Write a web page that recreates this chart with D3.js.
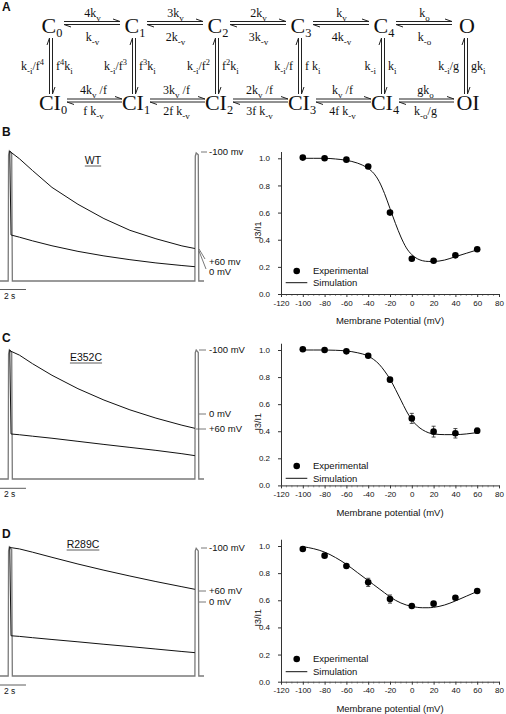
<!DOCTYPE html>
<html><head><meta charset="utf-8">
<script src="https://cdn.jsdelivr.net/npm/d3@7"></script>
<style>
html,body{margin:0;padding:0;background:#fff;}
svg{display:block;}
text{font-family:"Liberation Sans",Arial,sans-serif;fill:#111;}
</style></head><body>
<svg id="fig" width="506" height="714"></svg>
<script>
// ================= DATA =================
// Panel A: kinetic scheme
const topStates = ["C_{0}","C_{1}","C_{2}","C_{3}","C_{4}","O"];
const bottomStates = ["CI_{0}","CI_{1}","CI_{2}","CI_{3}","CI_{4}","OI"];
const topForward = ["4k_{v}","3k_{v}","2k_{v}","k_{v}","k_{o}"];
const topBackward = ["k_{-v}","2k_{-v}","3k_{-v}","4k_{-v}","k_{-o}"];
const bottomForward = ["4k_{v} /f","3k_{v} /f","2k_{v} /f","k_{v} /f","gk_{o}"];
const bottomBackward = ["f k_{-v}","2f k_{-v}","3f k_{-v}","4f k_{-v}","k_{-o}/g"];
const upRates = ["k_{-i}/f^{4}","k_{-i}/f^{3}","k_{-i}/f^{2}","k_{-i}/f","k_{-i}","k_{-i}/g"];
const downRates = ["f^{4}k_{i}","f^{3}k_{i}","f^{2}k_{i}","f k_{i}","k_{i}","gk_{i}"];

// Right-hand charts: I3/I1 vs membrane potential
const voltages = [-100,-80,-60,-40,-20,0,20,40,60];
const wtExp    = [1.005,1.0,0.99,0.94,0.60,0.26,0.245,0.285,0.33];
const e352cExp = [1.005,1.0,0.99,0.958,0.781,0.495,0.397,0.385,0.404];
const e352cErr = [0,0,0.005,0.01,0.015,0.037,0.04,0.035,0.02];
const r289cExp = [0.978,0.929,0.853,0.732,0.609,0.558,0.575,0.619,0.668];
const r289cErr = [0.005,0.005,0.01,0.03,0.03,0.01,0.01,0.01,0.01];
const simV     = [-100,-90,-80,-70,-60,-50,-40,-35,-30,-25,-20,-15,-10,-5,0,5,10,15,20,30,40,50,60];
const wtSim    = [1.00,1.00,1.00,0.995,0.985,0.965,0.925,0.89,0.83,0.74,0.63,0.52,0.42,0.34,0.29,0.26,0.245,0.24,0.24,0.25,0.275,0.30,0.325];
const e352cSim = [1.00,1.00,1.00,0.998,0.993,0.98,0.955,0.93,0.895,0.845,0.785,0.71,0.63,0.55,0.485,0.44,0.41,0.39,0.38,0.375,0.375,0.38,0.39];
const r289cSim = [0.995,0.98,0.955,0.915,0.865,0.805,0.745,0.715,0.685,0.655,0.625,0.60,0.58,0.565,0.555,0.548,0.545,0.545,0.548,0.565,0.595,0.63,0.665];
const xTicks = [-120,-100,-80,-60,-40,-20,0,20,40,60,80];
const yTicks = [0,0.2,0.4,0.6,0.8,1.0];

// Left-hand current traces (normalised to peak), time in s
const traceTime = [0.75,0.85,1.5,2.5,4,6,8,10,12,14,15];
const wtUpper    = [1.0,0.99,0.94,0.85,0.72,0.59,0.48,0.39,0.325,0.27,0.25];
const wtLower    = [1.0,0.354,0.337,0.309,0.271,0.228,0.193,0.164,0.139,0.119,0.11];
const e352cUpper = [1.0,0.99,0.96,0.894,0.804,0.70,0.612,0.536,0.472,0.417,0.393];
const e352cLower = [1.0,0.349,0.343,0.332,0.316,0.292,0.268,0.245,0.222,0.196,0.181];
const r289cUpper = [1.0,0.995,0.985,0.96,0.92,0.868,0.82,0.775,0.732,0.692,0.672];
const r289cLower = [1.0,0.312,0.307,0.297,0.283,0.265,0.246,0.228,0.209,0.19,0.181];
const pulseTime  = [0,0.63,0.66,0.72,0.90,0.95,15.0,15.03,15.1,15.26,15.3,15.7];
const wtPulse    = [0,0,0.97,1.0,0.98,0,0,0.96,0.985,0.97,0,0];
const e352cPulse = [0,0,0.97,1.0,0.98,0,0,0.98,1.0,0.98,0,0];
const r289cPulse = [0,0,0.97,1.0,0.98,0,0,0.97,0.99,0.97,0,0];

// ================= DRAW =================
const svg = d3.select("#fig");
const SERIF = '"Liberation Serif","Times New Roman",serif';

function rich(g, str, x, y, size, anchor, subR, subOff, supR, supOff){
  subR = subR||0.75; subOff = subOff||0.35; supR = supR||0.7; supOff = supOff||0.42;
  const t = g.append("text").attr("x",x).attr("y",y)
    .attr("font-size",size+"px").attr("text-anchor",anchor||"middle")
    .style("font-family",SERIF).style("white-space","pre");
  const parts = str.split(/(_\{[^}]*\}|\^\{[^}]*\})/).filter(s=>s.length);
  let cur = 0;
  parts.forEach(p=>{
    let target=0, fs=size, txt=p;
    if(p[0]==='_' && p[1]==='{'){target=size*subOff; fs=size*subR; txt=p.slice(2,-1);}
    else if(p[0]==='^' && p[1]==='{'){target=-size*supOff; fs=size*supR; txt=p.slice(2,-1);}
    t.append("tspan").attr("dy",target-cur).attr("font-size",fs+"px").text(txt);
    cur = target;
  });
  return t;
}

// ---------- Panel A ----------
const gA = svg.append("g");
gA.append("text").attr("x",2).attr("y",11).attr("font-size","12px").attr("font-weight","bold").text("A");
const colX = d3.scalePoint().domain(d3.range(6)).range([51,466]);
const rowTop = 33, rowBot = 110;
const stroke = "#222";
function hArrow(x1,x2,y,dir){
  gA.append("line").attr("x1",x1).attr("x2",x2).attr("y1",y).attr("y2",y).attr("stroke",stroke).attr("stroke-width",1);
  if(dir>0) gA.append("line").attr("x1",x2).attr("y1",y).attr("x2",x2-7).attr("y2",y-2.5).attr("stroke",stroke).attr("stroke-width",1);
  else gA.append("line").attr("x1",x1).attr("y1",y).attr("x2",x1+7).attr("y2",y+2.5).attr("stroke",stroke).attr("stroke-width",1);
}
function vArrow(x,y1,y2,dir){
  gA.append("line").attr("x1",x).attr("x2",x).attr("y1",y1).attr("y2",y2).attr("stroke",stroke).attr("stroke-width",1);
  if(dir<0) gA.append("line").attr("x1",x).attr("y1",y1).attr("x2",x-2.5).attr("y2",y1+7).attr("stroke",stroke).attr("stroke-width",1);
  else gA.append("line").attr("x1",x).attr("y1",y2).attr("x2",x+2.5).attr("y2",y2-7).attr("stroke",stroke).attr("stroke-width",1);
}
topStates.forEach((s,i)=>rich(gA,s,colX(i)+1,rowTop,22,"middle",0.56,0.2));
bottomStates.forEach((s,i)=>rich(gA,s,colX(i)+2,rowBot,22,"middle",0.56,0.2));
d3.range(5).forEach(i=>{
  const a = colX(i), b = colX(i+1);
  hArrow(a+13,b-14,21.5,1); hArrow(a+13,b-14,24.5,-1);
  rich(gA,topForward[i],(a+b)/2,17,12);
  rich(gA,topBackward[i],(a+b)/2,41,12);
  hArrow(a+16,b-12,99,1); hArrow(a+16,b-12,102,-1);
  rich(gA,bottomForward[i],(a+b)/2+1,94,12);
  rich(gA,bottomBackward[i],(a+b)/2+1,115,12);
});
d3.range(6).forEach(i=>{
  const c = colX(i);
  vArrow(c-1.5,38,94,-1); vArrow(c+1.5,38,94,1);
  rich(gA,upRates[i],c-7,70,12,"end");
  rich(gA,downRates[i],c+5,70,12,"start");
});

// ---------- Trace panels & charts ----------
const tScale = d3.scaleLinear().domain([0,15.7]).range([0,204]);
const xScale = d3.scaleLinear().domain([-120,80]).range([281,499]);

const panels = [
  {key:"B", lab:"WT", labX:93, labY:164, labelY:136,
   tTop:151, tBase:281, upper:wtUpper, lower:wtLower, pulse:wtPulse, barY:289.5,
   notes:[{t:"-100 mv",y:152,l:[201,152,207,152]},{t:"+60 mv",y:261.5,l:[199,249,205,259]},{t:"0 mV",y:271.5,l:[199,251,206,269]}],
   cTop:158.3, cBot:294, exp:wtExp, err:null, sim:wtSim, title:"Membrane Potential (mV)", leg:[-23,-11.3]},
  {key:"C", lab:"E352C", labX:86, labY:361, labelY:342,
   tTop:350, tBase:479, upper:e352cUpper, lower:e352cLower, pulse:e352cPulse, barY:488.3,
   notes:[{t:"-100 mV",y:350,l:[199,350,206,350]},{t:"0 mV",y:414,l:[199,414,206,414]},{t:"+60 mV",y:429,l:[196,429,206,429]}],
   cTop:350, cBot:485.4, exp:e352cExp, err:e352cErr, sim:e352cSim, title:"Membrane potential (mV)", leg:[-19.4,-7.1]},
  {key:"D", lab:"R289C", labX:83, labY:548, labelY:538,
   tTop:547, tBase:676, upper:r289cUpper, lower:r289cLower, pulse:r289cPulse, barY:685,
   notes:[{t:"-100 mV",y:548,l:[201,548,207,548]},{t:"+60 mV",y:591,l:[199,591,206,591]},{t:"0 mV",y:602,l:[199,602,206,602]}],
   cTop:546, cBot:681.7, exp:r289cExp, err:r289cErr, sim:r289cSim, title:"Membrane potential (mV)", leg:[-22.7,-10]}
];

panels.forEach(p=>{
  const g = svg.append("g");
  g.append("text").attr("x",2).attr("y",p.labelY).attr("font-size","12px").attr("font-weight","bold").text(p.key);
  // ---- traces ----
  const ty = d3.scaleLinear().domain([0,1]).range([p.tBase,p.tTop]);
  const line = d3.line().x(d=>tScale(d[0])).y(d=>ty(d[1]));
  g.append("path").attr("d",line(pulseTime.map((t,i)=>[t,p.pulse[i]])))
    .attr("fill","none").attr("stroke","#7a7a7a").attr("stroke-width",1.3);
  g.append("path").attr("d",line(traceTime.map((t,i)=>[t,p.upper[i]])))
    .attr("fill","none").attr("stroke","#111").attr("stroke-width",1);
  g.append("path").attr("d",line(traceTime.map((t,i)=>[t,p.lower[i]])))
    .attr("fill","none").attr("stroke","#111").attr("stroke-width",1);
  // title underlined
  const tt = g.append("text").attr("x",p.labX).attr("y",p.labY).attr("text-anchor","middle").attr("font-size","10.5px").text(p.lab);
  const w = tt.node().getComputedTextLength();
  g.append("line").attr("x1",p.labX-w/2).attr("x2",p.labX+w/2).attr("y1",p.labY+2).attr("y2",p.labY+2).attr("stroke","#333").attr("stroke-width",0.8);
  // notes
  p.notes.forEach(n=>{
    g.append("line").attr("x1",n.l[0]).attr("y1",n.l[1]).attr("x2",n.l[2]).attr("y2",n.l[3]).attr("stroke","#555").attr("stroke-width",0.8);
    g.append("text").attr("x",209).attr("y",n.y).attr("dy","0.35em").attr("font-size","9.5px").text(n.t);
  });
  // scale bar 2 s
  g.append("line").attr("x1",tScale(0)).attr("x2",tScale(2)).attr("y1",p.barY).attr("y2",p.barY).attr("stroke","#333").attr("stroke-width",0.8);
  g.append("text").attr("x",4).attr("y",p.barY+9).attr("font-size","8.5px").text("2 s");

  // ---- chart ----
  const ys = d3.scaleLinear().domain([0,1.05]).range([p.cBot, p.cBot-1.05*(p.cBot-p.cTop)]);
  // minor ticks on x
  const minor = d3.range(-120,81,5).filter(v=>v%20!==0);
  g.append("g").selectAll("line").data(minor).join("line")
    .attr("x1",d=>xScale(d)).attr("x2",d=>xScale(d)).attr("y1",p.cBot).attr("y2",p.cBot+2)
    .attr("stroke","#888").attr("stroke-width",0.8);
  const gx = g.append("g").attr("transform",`translate(0,${p.cBot})`)
    .call(d3.axisBottom(xScale).tickValues(xTicks).tickSize(3).tickSizeOuter(0).tickPadding(3).tickFormat(d=>String(d)));
  const gy = g.append("g").attr("transform",`translate(${xScale(-120)},0)`)
    .call(d3.axisLeft(ys).tickValues(yTicks).tickSize(3).tickSizeOuter(0).tickPadding(8).tickFormat(d=>d.toFixed(1)));
  [gx,gy].forEach(a=>{
    a.selectAll("text").attr("font-size","8px").style("font-family",'"Liberation Sans",Arial,sans-serif').attr("fill","#222");
    a.selectAll("line").attr("stroke","#333");
    a.select(".domain").attr("stroke","#333");
  });
  g.append("text").attr("x",(xScale(-120)+xScale(80))/2).attr("y",p.cBot+27).attr("dy","0.35em")
    .attr("text-anchor","middle").attr("font-size","9.5px").text(p.title);
  g.append("text").attr("transform",`translate(257.5,${(p.cBot+p.cTop)/2+4}) rotate(-90)`)
    .attr("text-anchor","middle").attr("dy","0.35em").attr("font-size","9px").text("I3/I1");
  // simulation
  g.append("path").attr("d",d3.line().curve(d3.curveMonotoneX).x((d,i)=>xScale(simV[i])).y(d=>ys(d))(p.sim))
    .attr("fill","none").attr("stroke","#111").attr("stroke-width",1);
  // error bars
  if(p.err){
    const eb = g.append("g");
    voltages.forEach((v,i)=>{
      const e = p.err[i]; if(!e) return;
      const x = xScale(v), y1 = ys(p.exp[i]-e), y2 = ys(p.exp[i]+e);
      eb.append("line").attr("x1",x).attr("x2",x).attr("y1",y1).attr("y2",y2).attr("stroke","#222").attr("stroke-width",0.8);
      eb.append("line").attr("x1",x-2).attr("x2",x+2).attr("y1",y1).attr("y2",y1).attr("stroke","#222").attr("stroke-width",0.8);
      eb.append("line").attr("x1",x-2).attr("x2",x+2).attr("y1",y2).attr("y2",y2).attr("stroke","#222").attr("stroke-width",0.8);
    });
  }
  g.append("g").selectAll("circle").data(p.exp).join("circle")
    .attr("cx",(d,i)=>xScale(voltages[i])).attr("cy",d=>ys(d)).attr("r",3.3).attr("fill","#000");
  // legend
  const ly1 = p.cBot+p.leg[0], ly2 = p.cBot+p.leg[1];
  g.append("circle").attr("cx",296.7).attr("cy",ly1).attr("r",3.3).attr("fill","#000");
  g.append("text").attr("x",313).attr("y",ly1).attr("dy","0.35em").attr("font-size","9.5px").text("Experimental");
  g.append("line").attr("x1",285.7).attr("x2",307.3).attr("y1",ly2).attr("y2",ly2).attr("stroke","#111").attr("stroke-width",1);
  g.append("text").attr("x",313).attr("y",ly2).attr("dy","0.35em").attr("font-size","9.5px").text("Simulation");
});
</script>
</body></html>
